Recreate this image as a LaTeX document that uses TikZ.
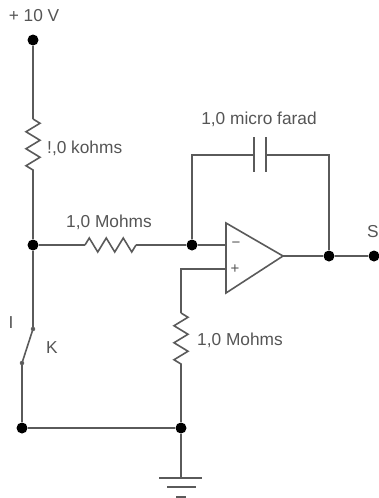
\documentclass[tikz,border=0pt]{standalone}
\usepackage{fontspec}
\setmainfont{Liberation Sans}
\usetikzlibrary{decorations.pathmorphing}
\definecolor{wire}{HTML}{5A5A5A}
\definecolor{lbl}{HTML}{555555}
\tikzset{
	dot/.style={circle, fill=black, inner sep=0pt, minimum size=11pt},
	pin/.style={circle, draw=wire, fill=wire, inner sep=0pt, minimum size=4pt},
	lab/.style={text=lbl, font=\fontsize{17.3}{19}\selectfont, inner sep=0pt},
	sign/.style={text=lbl, font=\fontsize{15}{17}\selectfont, inner sep=0pt},
	wir/.style={draw=wire, line width=1.6pt},
	res/.style={wir, decorate, decoration={zigzag, segment length=17pt, amplitude=7pt}}
}
\begin{document}
\begin{tikzpicture}[x=1pt, y=-1pt]
	\useasboundingbox (0,0) rectangle (379,498);
	\node[dot] (vcc) at (33,40) {};
	\node[dot] (j1) at (33,245) {};
	\node[dot] (inv) at (192,245) {};
	\node[dot] (out) at (329,256) {};
	\node[dot] (s) at (374,256) {};
	\node[dot] (k0) at (22,428) {};
	\node[dot] (gnd) at (181,428) {};
	\node[pin] (k1) at (33,329) {};
	\node[pin] (k2) at (22,363) {};
		\coordinate (r1a) at (33,119);
		\coordinate (r1b) at (33,172);
		\coordinate (r2a) at (85,245);
		\coordinate (r2b) at (136,245);
		\coordinate (r3a) at (181,313);
		\coordinate (r3b) at (181,365);
		\coordinate (c1a) at (254,155);
		\coordinate (c1b) at (266,155);
		\coordinate (capl) at (192,155);
		\coordinate (capr) at (329,155);
		\coordinate (oa1) at (226,223);
		\coordinate (oa2) at (226,293);
		\coordinate (oa3) at (283,256);
		\coordinate (minus) at (226,245);
		\coordinate (plus) at (226,269);
		\coordinate (bend) at (181,269);
		\coordinate (g1) at (181,478);
	% wires
	\draw[wir] (vcc) -- (r1a);
	\draw[res] (r1a) -- (r1b);
	\draw[wir] (r1b) -- (j1);
	\draw[wir] (j1) -- (r2a);
	\draw[res] (r2a) -- (r2b);
	\draw[wir] (r2b) -- (inv);
	\draw[wir] (inv) -- (minus);
	\draw[wir] (inv) -- (capl) -- (c1a);
	\draw[wir] (c1b) -- (capr) -- (out);
	\draw[wir] (oa3) -- (out);
	\draw[wir] (out) -- (s);
	\draw[wir] (oa1) -- (oa2) -- (oa3) -- cycle;
	\draw[wir] (plus) -- (bend) -- (r3a);
	\draw[res] (r3a) -- (r3b);
	\draw[wir] (r3b) -- (gnd);
	\draw[wir] (j1) -- (k1);
	\draw[wir] (k1) -- (k2);
	\draw[wir] (k2) -- (k0);
	\draw[wir] (k0) -- (gnd);
	\draw[wir] (gnd) -- (g1);
	% capacitor plates
	\draw[wir] (254,137) -- (254,172);
	\draw[wir] (266,137) -- (266,172);
	% ground
	\draw[wir] (159,478) -- (202,478);
	\draw[wir] (167,487) -- (196,487);
	\draw[wir] (176,497) -- (186,497);
	% labels
	\node[lab] (vlab) at (34,16) {+ 10 V};
	\node[lab, anchor=west] (r1lab) at (47,148) {!,0 kohms};
	\node[lab] (r2lab) at (109,222) {1,0 Mohms};
	\node[lab] (clab) at (259,119) {1,0 micro farad};
	\node[lab, anchor=west] (r3lab) at (197,340) {1,0 Mohms};
	\node[lab] (slab) at (373,232) {S};
	\node[lab] (klab) at (52,348) {K};
	\node[lab] (ilab) at (11,323) {I};
	\node[sign] (mlab) at (236,245) {−};
	\node[sign] (plab) at (235,269) {+};
\end{tikzpicture}
\end{document}
